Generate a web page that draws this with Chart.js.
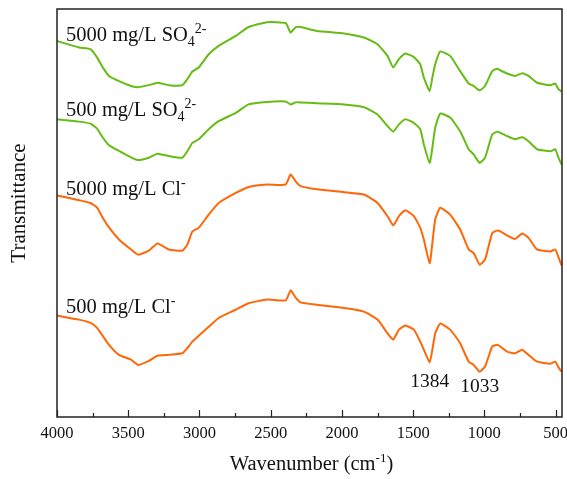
<!DOCTYPE html>
<html>
<head>
<meta charset="utf-8">
<script src="https://cdn.jsdelivr.net/npm/chart.js@4"></script>
<style>
  html, body { margin: 0; padding: 0; background: #fff; }
  #wrap { width: 567px; height: 479px; }
</style>
</head>
<body>
<div id="wrap"><canvas id="ftir" width="567" height="479"></canvas></div>
<script>
// Волновые числа (см-1), общие для всех кривых
const wavenumbers = [4000, 3845, 3765, 3720, 3680, 3635, 3565, 3480, 3430, 3355, 3295, 3215, 3120, 3085, 3050, 3005,
  2935, 2865, 2745, 2655, 2525, 2395, 2360, 2325, 2290, 2175, 1985, 1845, 1750, 1680, 1640, 1600, 1555, 1495,
  1450, 1425, 1384, 1365, 1345, 1310, 1240, 1170, 1110, 1075, 1033, 995, 945, 910, 888, 840, 785, 735, 690,
  630, 537, 502, 480, 458];

// Пропускание (условные единицы, кривые смещены по вертикали)
const so4_5000 = [93.8, 92.2, 91.8, 89.8, 87.3, 85.1, 83.8, 82.6, 82.3, 82.8, 83.4, 82.8, 82.8, 84.3, 86.2, 87.2,
  90.5, 92.6, 95.1, 97.3, 98.5, 98.3, 95.9, 97.3, 97.3, 96.3, 95.7, 94.7, 93.0, 90.1, 87.2, 89.3, 90.7, 89.8,
  88.0, 84.7, 81.3, 84.7, 88.0, 91.2, 90.1, 86.3, 83.2, 82.6, 81.5, 82.6, 86.3, 86.9, 86.5, 85.7, 85.1, 85.8, 85.1,
  83.4, 82.8, 83.2, 81.8, 81.2];
const so4_500 = [74.3, 73.7, 73.2, 72.0, 69.8, 67.8, 66.4, 64.8, 64.1, 64.7, 65.7, 65.1, 64.7, 66.3, 68.4, 69.3,
  71.8, 73.8, 75.9, 78.0, 78.6, 78.7, 78.0, 78.5, 78.5, 78.3, 78.0, 77.3, 75.5, 72.6, 71.2, 73.0, 74.3, 73.4,
  71.8, 68.0, 63.4, 67.2, 72.2, 75.7, 74.7, 71.3, 66.8, 65.5, 63.4, 64.7, 70.5, 71.2, 70.9, 70.1, 69.3, 69.8, 68.8,
  66.8, 66.3, 66.8, 64.7, 63.0];
const cl_5000 = [55.3, 54.1, 53.4, 52.3, 49.8, 47.3, 44.3, 41.8, 40.5, 41.5, 43.3, 41.8, 41.5, 43.0, 46.3, 47.2,
  50.5, 53.4, 55.9, 57.4, 58.0, 58.0, 60.5, 58.8, 57.6, 56.8, 56.1, 55.5, 53.4, 50.1, 47.8, 50.1, 51.6, 50.1,
  47.2, 44.3, 38.4, 43.4, 49.3, 52.2, 50.5, 46.8, 41.8, 40.9, 38.0, 39.3, 45.9, 46.5, 46.3, 45.3, 44.4, 45.8, 44.7,
  41.8, 41.3, 41.8, 39.9, 37.8];
const cl_500 = [25.3, 24.3, 23.5, 22.3, 20.3, 18.0, 15.5, 14.3, 13.0, 14.0, 15.3, 15.5, 15.9, 17.2, 18.8, 20.3,
  22.5, 24.7, 26.8, 28.4, 29.3, 29.1, 31.6, 29.8, 28.6, 28.0, 27.2, 26.3, 24.3, 20.9, 19.3, 21.8, 22.8, 21.8,
  18.8, 16.8, 13.6, 16.8, 20.9, 23.3, 21.8, 18.4, 13.8, 13.0, 11.3, 12.6, 17.6, 18.0, 17.6, 16.3, 15.9, 16.8, 15.5,
  13.8, 13.3, 13.8, 12.4, 11.3];

const tickLabels = [4000, 3500, 3000, 2500, 2000, 1500, 1000, 500];
const peakLabels = [1384, 1033];

const GREEN = '#66bb14';
const ORANGE = '#ff6608';
const SERIF = '"Liberation Serif", "Times New Roman", serif';

function toPoints(values) {
    return wavenumbers.map((w, i) => ({ x: w, y: values[i] }));
}

// Текст с индексами: части [текст, смещение по y, размер]
function drawRich(ctx, x, y, parts) {
    let cx = x;
    parts.forEach(([t, dy, size]) => {
        ctx.font = size + 'px ' + SERIF;
        ctx.fillText(t, cx, y + dy);
        cx += ctx.measureText(t).width;
    });
}

// Рамка, засечки внутрь, подписи осей и кривых
const decor = {
    id: 'decor',
    afterDraw(chart) {
        const { ctx, chartArea: a, scales: { x } } = chart;
        ctx.save();
        ctx.strokeStyle = '#222';
        ctx.lineWidth = 1.5;
        ctx.strokeRect(a.left, a.top, a.right - a.left, a.bottom - a.top);

        ctx.lineWidth = 1.2;
        for (let v = 500; v <= 4000; v += 250) {
            const px = Math.round(x.getPixelForValue(v)) + 0.5;
            const len = v % 500 === 0 ? 7 : 4;
            ctx.beginPath();
            ctx.moveTo(px, a.bottom);
            ctx.lineTo(px, a.bottom - len);
            ctx.stroke();
        }

        ctx.fillStyle = '#111';
        ctx.textAlign = 'center';
        ctx.textBaseline = 'middle';
        ctx.font = '16.5px ' + SERIF;
        tickLabels.forEach(v => {
            ctx.fillText(String(v), x.getPixelForValue(v), a.bottom + 17);
        });

        // Подпись оси X
        ctx.textAlign = 'left';
        ctx.textBaseline = 'alphabetic';
        const title = [['Wavenumber (cm', 0, 20.5], ['-1', -8, 13], [')', 0, 20.5]];
        let w = 0;
        title.forEach(([t, , s]) => { ctx.font = s + 'px ' + SERIF; w += ctx.measureText(t).width; });
        drawRich(ctx, (a.left + a.right) / 2 - w / 2 + 2, 470, title);

        // Подпись оси Y
        ctx.save();
        ctx.translate(25, 203);
        ctx.rotate(-Math.PI / 2);
        ctx.textAlign = 'center';
        ctx.font = '21px ' + SERIF;
        ctx.fillText('Transmittance', 0, 0);
        ctx.restore();

        // Подписи кривых
        ctx.textAlign = 'left';
        drawRich(ctx, 66, 41, [['5000 mg/L SO', 0, 20.5], ['4', 5, 14], ['2-', -8, 14]]);
        drawRich(ctx, 66, 116, [['500 mg/L SO', 0, 20.5], ['4', 5, 14], ['2-', -8, 14]]);
        drawRich(ctx, 66, 195, [['5000 mg/L Cl', 0, 20.5], ['-', -8, 14]]);
        drawRich(ctx, 66, 313, [['500 mg/L Cl', 0, 20.5], ['-', -8, 14]]);

        // Положения пиков
        ctx.textAlign = 'center';
        ctx.font = '19.5px ' + SERIF;
        ctx.fillText(String(peakLabels[0]), x.getPixelForValue(peakLabels[0]), 387);
        ctx.fillText(String(peakLabels[1]), x.getPixelForValue(peakLabels[1]), 392);
        ctx.restore();
    }
};

const ctx = document.getElementById('ftir').getContext('2d');
const series = [
    { data: so4_5000, color: GREEN },
    { data: so4_500, color: GREEN },
    { data: cl_5000, color: ORANGE },
    { data: cl_500, color: ORANGE }
];

new Chart(ctx, {
    type: 'line',
    data: {
        datasets: series.map(s => ({
            data: toPoints(s.data),
            borderColor: s.color,
            borderWidth: 2,
            pointRadius: 0,
            tension: 0.15,
            fill: false
        }))
    },
    options: {
        responsive: false,
        animation: false,
        layout: { padding: { left: 57, right: 5, top: 9, bottom: 62 } },
        plugins: { legend: { display: false }, tooltip: { enabled: false } },
        scales: {
            x: { type: 'linear', reverse: true, min: 455, max: 4000, display: false },
            y: { type: 'linear', min: 0, max: 101.8, display: false }
        }
    },
    plugins: [decor]
});
</script>
</body>
</html>
